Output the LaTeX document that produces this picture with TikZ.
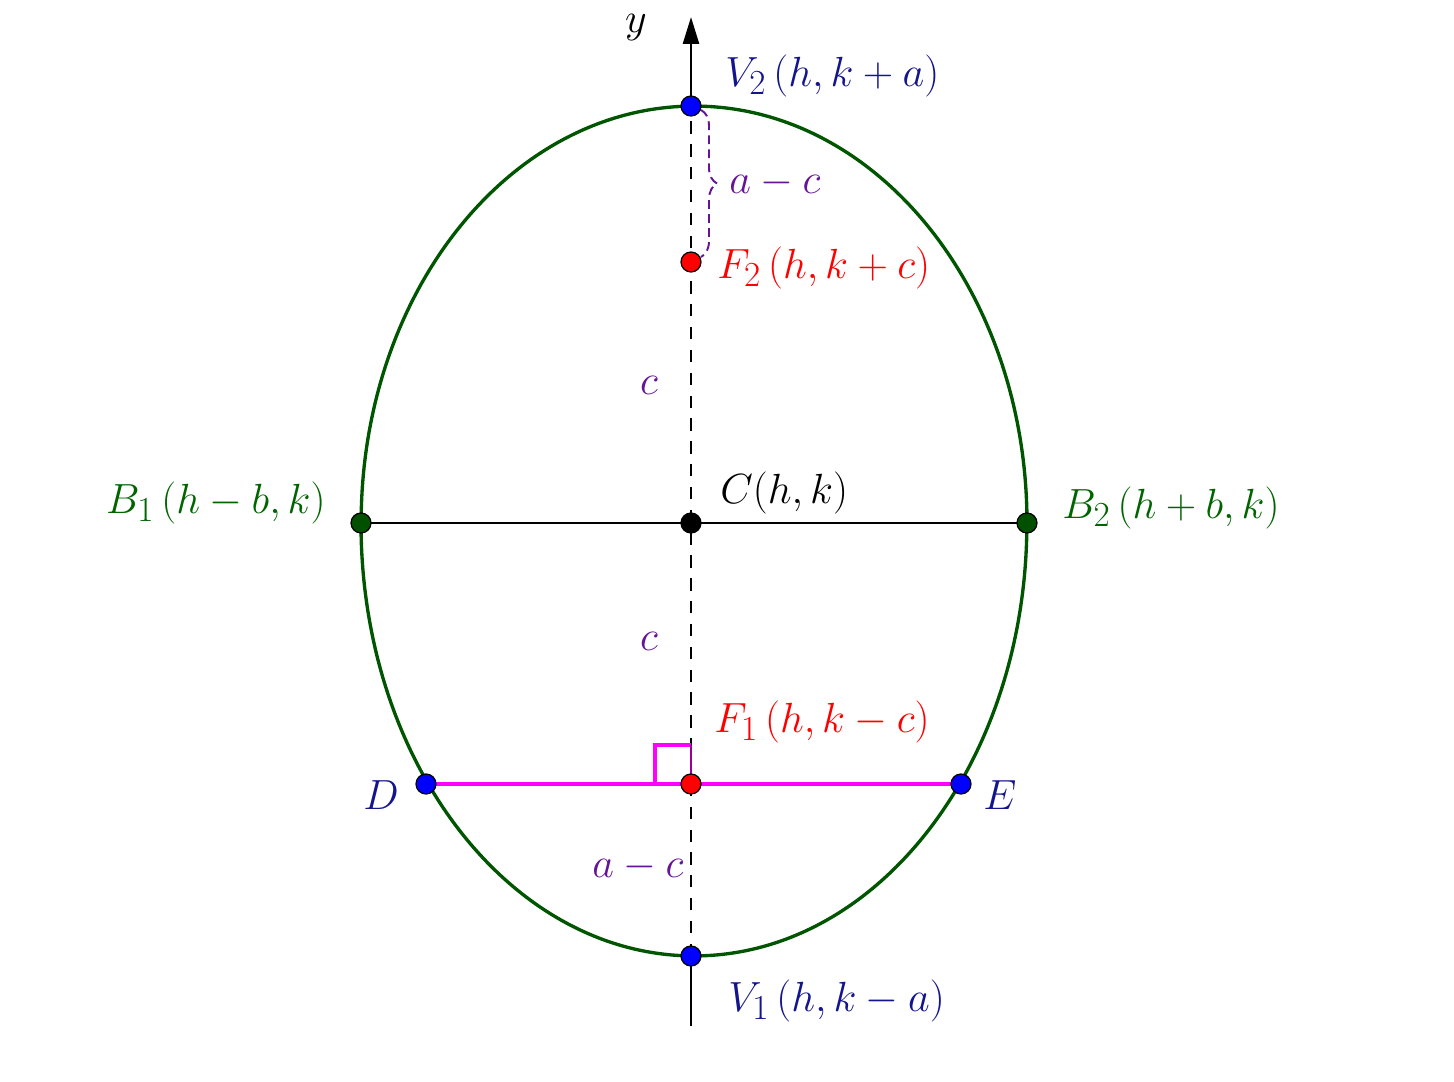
\documentclass[tikz,border=0pt]{standalone}
\usepackage{graphicx}
\usetikzlibrary{arrows.meta,decorations.pathreplacing}
\definecolor{ellgreen}{RGB}{0,85,0}
\definecolor{labgreen}{RGB}{0,100,0}
\definecolor{ptgreen}{RGB}{0,80,0}
\definecolor{labblue}{RGB}{20,20,140}
\definecolor{labpurple}{RGB}{102,20,150}
\definecolor{pink}{RGB}{255,0,255}
\newcommand{\mylab}[1]{\scalebox{0.965}{$#1$}}
\begin{document}
\begin{tikzpicture}[x=0.02cm,y=-0.02cm,
  pt/.style={circle,draw=black,line width=0.7pt,inner sep=0pt,minimum size=0.4cm},
  lab/.style={font=\fontsize{24.88}{29}\selectfont,inner sep=0pt},
  dashline/.style={line width=1.4pt,dash pattern=on 7pt off 6pt},
]
\useasboundingbox (0,0) rectangle (1454,1082);
% coordinates
\coordinate (C) at (691,523);
\coordinate (V2) at (691,106);
\coordinate (V1) at (691,956);
\coordinate (F2) at (691,262);
\coordinate (F1) at (691,784);
\coordinate (B1) at (361,523);
\coordinate (B2) at (1027,523);
\coordinate (D) at (426,784);
\coordinate (E) at (961,784);
\coordinate (top) at (691,17);
\coordinate (bot) at (691,1026);
% ellipse
\draw[ellgreen,line width=1.9pt] (B2) arc[start angle=0,end angle=180,x radius=6.66cm,y radius=8.34cm];
\draw[ellgreen,line width=1.9pt] (B1) arc[start angle=180,end angle=360,x radius=6.66cm,y radius=8.66cm];
% axis
\draw[line width=1.5pt] (bot) -- (V1);
\draw[dashline] (V1) -- (V2);
\draw[line width=1.5pt,-{Triangle[length=0.54cm,width=0.32cm]}] (V2) -- (top);
% minor axis
\draw[line width=1.5pt] (B1) -- (B2);
% latus rectum
\draw[pink,line width=2.1pt] (D) -- (E);
\draw[pink,line width=2.1pt] (F1) ++(-36,0) coordinate (sqa) -- ++(0,-39) coordinate (sqb) -- ++(36,0) coordinate (sqc);
\draw[pink!60!black,line width=1.6pt] (sqc) -- (F1);
% brace
\draw[labpurple,line width=1.1pt,dash pattern=on 5pt off 3pt,decorate,decoration={brace,amplitude=0.32cm,aspect=0.5}] (701,110) -- (701,257);
% points
\node[pt,fill=blue] (V2p) at (V2) {};
\node[pt,fill=blue] (V1p) at (V1) {};
\node[pt,fill=red] (F2p) at (F2) {};
\node[pt,fill=red] (F1p) at (F1) {};
\node[pt,fill=black] (Cp) at (C) {};
\node[pt,fill=ptgreen] (B1p) at (B1) {};
\node[pt,fill=ptgreen] (B2p) at (B2) {};
\node[pt,fill=blue] (Dp) at (D) {};
\node[pt,fill=blue] (Ep) at (E) {};
% labels
\node[lab] (ylab) at (636,28) {\mylab{y}};
\node[lab,labblue,anchor=west] (V2l) at (725,76) {\mylab{V_2\,(h,k+a)}};
\node[lab,red,anchor=west] (F2l) at (717,268) {\mylab{F_2\,(h,k+c)}};
\node[lab,labpurple,anchor=west] (acl1) at (729,183) {\mylab{a-c}};
\node[lab,labpurple] (c1) at (649,385) {\mylab{c}};
\node[lab,labpurple] (c2) at (649,641) {\mylab{c}};
\node[lab,black,anchor=west] (Cl) at (720,493) {\mylab{C(h,k)}};
\node[lab,labgreen,anchor=east] (B1l) at (326,503) {\mylab{B_1\,(h-b,k)}};
\node[lab,labgreen,anchor=west] (B2l) at (1062,508) {\mylab{B_2\,(h+b,k)}};
\node[lab,red,anchor=west] (F1l) at (714,722) {\mylab{F_1\,(h,k-c)}};
\node[lab,labblue] (Dl) at (381,795) {\mylab{D}};
\node[lab,labblue] (El) at (1000,795) {\mylab{E}};
\node[lab,labpurple] (acl2) at (638,867) {\mylab{a-c}};
\node[lab,labblue,anchor=west] (V1l) at (728,1001) {\mylab{V_1\,(h,k-a)}};
\end{tikzpicture}
\end{document}
